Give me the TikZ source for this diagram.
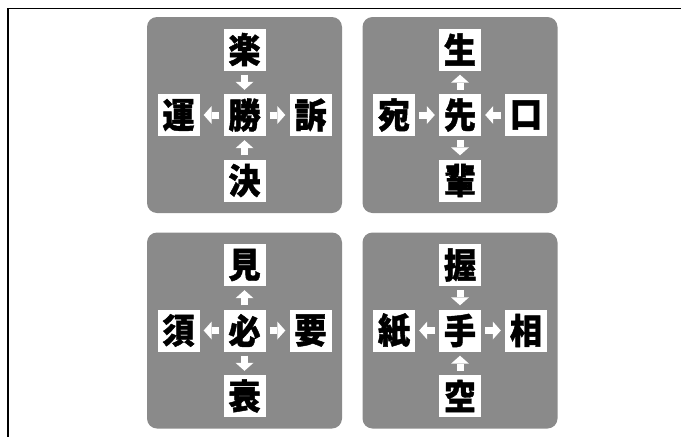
\documentclass[tikz,border=0pt]{standalone}
\usepackage{fontspec}
\newfontfamily\cjk{Noto Sans CJK JP}[BoldFeatures={FakeBold=1.2,FakeStretch=0.92}]
\usetikzlibrary{arrows.meta}
\definecolor{panelgray}{RGB}{138,138,138}
\tikzset{
  panel/.style={fill=panelgray, rounded corners=10pt, minimum width=195pt, minimum height=196pt, inner sep=0pt},
  kbox/.style={fill=white, minimum width=42pt, minimum height=42pt, inner sep=0pt,
    font=\cjk\bfseries\fontsize{35pt}{35pt}\selectfont},
  conn/.style={draw=white, line width=7pt, shorten <=4pt, shorten >=4pt,
    -{Triangle[width=18pt,length=8pt,line width=0pt]}},
  frameline/.style={draw=black, line width=1.6pt}
}
\newcommand\kpanel[8]{%
  \node[panel] (#1) at (#2pt,#3pt) {};
  \node[kbox] (#1c) at (#1.center) {#4};
  \node[kbox] (#1t) at ([yshift=65.5pt]#1.center) {#5};
  \node[kbox] (#1l) at ([xshift=-66pt]#1.center) {#6};
  \node[kbox] (#1r) at ([xshift=66pt]#1.center) {#7};
  \node[kbox] (#1b) at ([yshift=-65.5pt]#1.center) {#8};
}
\begin{document}
\begin{tikzpicture}
\useasboundingbox (0pt,0pt) rectangle (681pt,-437pt);
\coordinate (fa) at (8pt,-437pt);
\coordinate (fb) at (8pt,-8.5pt);
\coordinate (fc) at (681pt,-8.5pt);
\draw[frameline] (fa) -- (fb) -- (fc);
% panel 1
\kpanel{p}{244.5}{-115}{勝}{楽}{運}{訴}{決}
\draw[conn] (pt) -- (pc);
\draw[conn] (pb) -- (pc);
\draw[conn] (pc) -- (pl);
\draw[conn] (pc) -- (pr);
% panel 2
\kpanel{q}{460}{-115}{先}{生}{宛}{口}{輩}
\draw[conn] (ql) -- (qc);
\draw[conn] (qr) -- (qc);
\draw[conn] (qc) -- (qt);
\draw[conn] (qc) -- (qb);
% panel 3
\kpanel{s}{244.5}{-330.5}{必}{見}{須}{要}{衰}
\draw[conn] (sc) -- (st);
\draw[conn] (sc) -- (sb);
\draw[conn] (sc) -- (sl);
\draw[conn] (sc) -- (sr);
% panel 4
\kpanel{u}{460}{-330.5}{手}{握}{紙}{相}{空}
\draw[conn] (ut) -- (uc);
\draw[conn] (ub) -- (uc);
\draw[conn] (uc) -- (ul);
\draw[conn] (uc) -- (ur);
\end{tikzpicture}
\end{document}
